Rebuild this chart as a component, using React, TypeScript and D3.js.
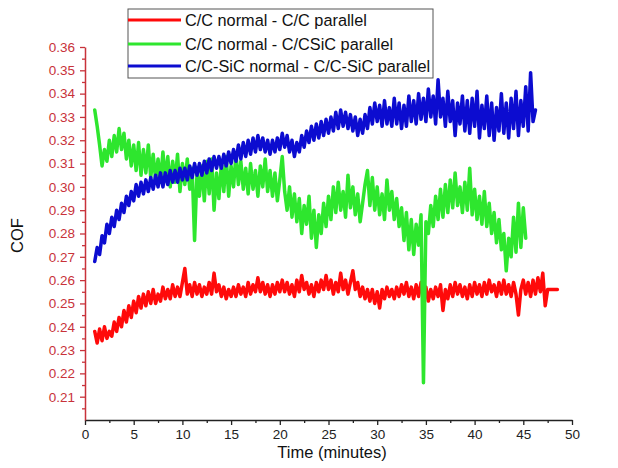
import React, { useEffect, useRef } from "react";
import * as d3 from "d3";

// Sampling of the recorded COF signal (minutes)
const T0 = 1.0;
const DT = 0.25;

const seriesNames = [
  "C/C normal - C/C parallel",
  "C/C normal - C/CSiC parallel",
  "C/C-SiC normal - C/C-SiC parallel",
];

const redCOF = [
  0.238, 0.233, 0.239, 0.234, 0.240, 0.235, 0.238, 0.236, 0.242, 0.238, 0.244, 0.240, 0.247, 0.242, 0.249, 0.244,
  0.251, 0.246, 0.253, 0.248, 0.254, 0.249, 0.255, 0.250, 0.256, 0.250, 0.254, 0.251, 0.257, 0.252, 0.256, 0.252,
  0.258, 0.253, 0.257, 0.253, 0.259, 0.265, 0.254, 0.258, 0.253, 0.259, 0.254, 0.258, 0.253, 0.257, 0.254, 0.259,
  0.254, 0.263, 0.255, 0.258, 0.253, 0.257, 0.252, 0.256, 0.253, 0.257, 0.253, 0.258, 0.254, 0.257, 0.253, 0.259,
  0.254, 0.258, 0.255, 0.261, 0.255, 0.259, 0.254, 0.258, 0.253, 0.258, 0.254, 0.259, 0.255, 0.260, 0.255, 0.259,
  0.254, 0.258, 0.253, 0.260, 0.255, 0.262, 0.256, 0.259, 0.254, 0.258, 0.253, 0.259, 0.255, 0.260, 0.256, 0.262,
  0.256, 0.260, 0.254, 0.259, 0.255, 0.263, 0.256, 0.260, 0.254, 0.259, 0.264, 0.256, 0.259, 0.253, 0.257, 0.252,
  0.256, 0.251, 0.256, 0.250, 0.255, 0.248, 0.256, 0.252, 0.257, 0.253, 0.256, 0.252, 0.257, 0.253, 0.258, 0.254,
  0.259, 0.253, 0.257, 0.252, 0.258, 0.253, 0.259, 0.254, 0.257, 0.251, 0.256, 0.252, 0.257, 0.253, 0.258, 0.247,
  0.256, 0.252, 0.258, 0.253, 0.259, 0.254, 0.258, 0.253, 0.257, 0.252, 0.258, 0.253, 0.259, 0.254, 0.258, 0.253,
  0.259, 0.254, 0.260, 0.255, 0.258, 0.253, 0.259, 0.254, 0.260, 0.254, 0.258, 0.253, 0.259, 0.254, 0.245, 0.256,
  0.260, 0.254, 0.259, 0.253, 0.260, 0.254, 0.261, 0.255, 0.263, 0.249, 0.256, 0.256, 0.256, 0.256, 0.256,
];

const greenCOF = [
  0.333, 0.326, 0.318, 0.309, 0.316, 0.311, 0.320, 0.313, 0.322, 0.315, 0.325, 0.316, 0.323, 0.312, 0.320, 0.309,
  0.318, 0.307, 0.319, 0.305, 0.316, 0.306, 0.318, 0.304, 0.314, 0.303, 0.312, 0.302, 0.315, 0.303, 0.313, 0.300,
  0.311, 0.302, 0.314, 0.298, 0.310, 0.301, 0.312, 0.299, 0.308, 0.277, 0.306, 0.296, 0.309, 0.294, 0.311, 0.297,
  0.312, 0.290, 0.306, 0.295, 0.310, 0.298, 0.313, 0.296, 0.309, 0.300, 0.314, 0.301, 0.311, 0.299, 0.308, 0.297,
  0.310, 0.299, 0.307, 0.296, 0.309, 0.300, 0.312, 0.298, 0.307, 0.296, 0.306, 0.294, 0.303, 0.313, 0.298, 0.290,
  0.300, 0.287, 0.297, 0.285, 0.295, 0.280, 0.292, 0.284, 0.296, 0.278, 0.290, 0.274, 0.288, 0.280, 0.293, 0.283,
  0.296, 0.286, 0.300, 0.289, 0.302, 0.290, 0.298, 0.287, 0.305, 0.291, 0.300, 0.288, 0.297, 0.285, 0.293, 0.301,
  0.307, 0.292, 0.304, 0.290, 0.300, 0.288, 0.297, 0.286, 0.303, 0.290, 0.298, 0.286, 0.295, 0.283, 0.291, 0.277,
  0.289, 0.273, 0.286, 0.271, 0.284, 0.275, 0.288, 0.216, 0.285, 0.280, 0.292, 0.283, 0.296, 0.286, 0.299, 0.287,
  0.301, 0.289, 0.303, 0.291, 0.306, 0.292, 0.300, 0.289, 0.302, 0.290, 0.308, 0.288, 0.299, 0.286, 0.296, 0.284,
  0.298, 0.283, 0.293, 0.280, 0.289, 0.276, 0.286, 0.273, 0.280, 0.264, 0.278, 0.270, 0.287, 0.272, 0.293, 0.274,
  0.291, 0.278,
];

const blueCOF = [
  0.268, 0.274, 0.271, 0.279, 0.276, 0.284, 0.280, 0.287, 0.283, 0.290, 0.286, 0.293, 0.289, 0.296, 0.292, 0.298,
  0.294, 0.301, 0.296, 0.302, 0.297, 0.303, 0.298, 0.304, 0.299, 0.305, 0.300, 0.306, 0.300, 0.306, 0.301, 0.307,
  0.302, 0.307, 0.302, 0.308, 0.303, 0.308, 0.303, 0.309, 0.304, 0.310, 0.305, 0.310, 0.305, 0.311, 0.306, 0.312,
  0.307, 0.313, 0.308, 0.313, 0.308, 0.314, 0.309, 0.315, 0.310, 0.316, 0.311, 0.318, 0.312, 0.319, 0.313, 0.320,
  0.314, 0.321, 0.315, 0.322, 0.316, 0.321, 0.315, 0.320, 0.314, 0.320, 0.315, 0.321, 0.316, 0.323, 0.317, 0.322,
  0.315, 0.320, 0.313, 0.319, 0.315, 0.322, 0.317, 0.324, 0.319, 0.326, 0.320, 0.327, 0.321, 0.328, 0.322, 0.329,
  0.323, 0.330, 0.324, 0.332, 0.325, 0.333, 0.326, 0.332, 0.325, 0.331, 0.324, 0.330, 0.322, 0.329, 0.323, 0.331,
  0.325, 0.334, 0.327, 0.336, 0.328, 0.335, 0.326, 0.337, 0.327, 0.334, 0.326, 0.338, 0.327, 0.336, 0.325, 0.335,
  0.326, 0.339, 0.328, 0.337, 0.327, 0.340, 0.329, 0.338, 0.328, 0.342, 0.330, 0.339, 0.327, 0.346, 0.330, 0.338,
  0.326, 0.341, 0.328, 0.337, 0.322, 0.336, 0.327, 0.339, 0.324, 0.337, 0.323, 0.338, 0.326, 0.341, 0.321, 0.335,
  0.325, 0.339, 0.322, 0.336, 0.320, 0.334, 0.324, 0.340, 0.323, 0.336, 0.321, 0.338, 0.325, 0.341, 0.322, 0.337,
  0.326, 0.343, 0.324, 0.349, 0.328, 0.333,
];

const seriesColors = ["#ff0a0a", "#2ee62e", "#0c0cd0"];
const xTicks = [0, 5, 10, 15, 20, 25, 30, 35, 40, 45, 50];
const xMinorTicks = [2.5, 7.5, 12.5, 17.5, 22.5, 27.5, 32.5, 37.5, 42.5, 47.5];
const yTicks = [0.21, 0.22, 0.23, 0.24, 0.25, 0.26, 0.27, 0.28, 0.29, 0.30, 0.31, 0.32, 0.33, 0.34, 0.35, 0.36];
const yMinorTicks = [0.205, 0.215, 0.225, 0.235, 0.245, 0.255, 0.265, 0.275, 0.285, 0.295, 0.305, 0.315, 0.325, 0.335, 0.345, 0.355];

const W = 618;
const H = 468;
const AXIS_RED = "#c8323a";
const FONT = "'Liberation Sans', Arial, Helvetica, sans-serif";

export default function App() {
  const ref = useRef<SVGSVGElement | null>(null);

  useEffect(() => {
    const svg = d3.select(ref.current);
    svg.selectAll("*").remove();

    const x = d3.scaleLinear().domain([0, 50]).range([85, 572]);
    const y = d3.scaleLinear().domain([0.2, 0.36]).range([420, 47]);

    const all = [redCOF, greenCOF, blueCOF];
    const line = d3
      .line<number>()
      .x((_, i) => x(T0 + i * DT))
      .y((d) => y(d));

    const plot = svg.append("g");
    all.forEach((s, k) => {
      plot
        .append("path")
        .attr("d", line(s) as string)
        .attr("fill", "none")
        .attr("stroke", seriesColors[k])
        .attr("stroke-width", 3.5)
        .attr("stroke-linejoin", "round")
        .attr("stroke-linecap", "round");
    });

    // X axis
    const gx = svg.append("g").attr("transform", `translate(0,${y(0.2)})`);
    gx.call(d3.axisBottom(x).tickValues(xTicks).tickSize(5).tickSizeOuter(0).tickPadding(4).tickFormat(d3.format("d")));
    const gxm = svg.append("g").attr("transform", `translate(0,${y(0.2)})`);
    gxm.call(d3.axisBottom(x).tickValues(xMinorTicks).tickSize(3).tickSizeOuter(0).tickFormat(() => ""));
    gxm.select(".domain").remove();
    [gx, gxm].forEach((g) => {
      g.selectAll("line").attr("stroke", "#222").attr("stroke-width", 1.3);
      g.select(".domain").attr("stroke", "#222").attr("stroke-width", 1.5);
      g.selectAll("text").attr("font-family", FONT).attr("font-size", 13.5).attr("fill", "#222");
    });

    // Y axis
    const gy = svg.append("g").attr("transform", `translate(${x(0)},0)`);
    gy.call(d3.axisLeft(y).tickValues(yTicks).tickSize(5).tickSizeOuter(0).tickPadding(5).tickFormat(d3.format(".2f")));
    const gym = svg.append("g").attr("transform", `translate(${x(0)},0)`);
    gym.call(d3.axisLeft(y).tickValues(yMinorTicks).tickSize(3).tickSizeOuter(0).tickFormat(() => ""));
    gym.select(".domain").remove();
    [gy, gym].forEach((g) => {
      g.selectAll("line").attr("stroke", AXIS_RED).attr("stroke-width", 1.3);
      g.select(".domain").attr("stroke", AXIS_RED).attr("stroke-width", 1.5);
      g.selectAll("text").attr("font-family", FONT).attr("font-size", 13.5).attr("fill", AXIS_RED);
    });

    // Axis titles
    svg
      .append("text")
      .attr("x", 332)
      .attr("y", 458)
      .attr("text-anchor", "middle")
      .attr("font-family", FONT)
      .attr("font-size", 16.5)
      .attr("fill", "#111")
      .text("Time (minutes)");
    svg
      .append("text")
      .attr("transform", `translate(23,${(y(0.2) + y(0.36)) / 2 + 2}) rotate(-90)`)
      .attr("text-anchor", "middle")
      .attr("font-family", FONT)
      .attr("font-size", 16.5)
      .attr("fill", "#111")
      .text("COF");

    // Legend
    const lg = svg.append("g");
    lg.append("rect")
      .attr("x", 128)
      .attr("y", 9)
      .attr("width", 305)
      .attr("height", 69)
      .attr("fill", "white")
      .attr("stroke", "#555")
      .attr("stroke-width", 1);
    const rows = [20, 44, 66];
    seriesNames.forEach((name, k) => {
      lg.append("line")
        .attr("x1", 128)
        .attr("x2", 181)
        .attr("y1", rows[k])
        .attr("y2", rows[k])
        .attr("stroke", seriesColors[k])
        .attr("stroke-width", 3);
      lg.append("text")
        .attr("x", 185)
        .attr("y", rows[k] + 5.5)
        .attr("font-family", FONT)
        .attr("font-size", 16.3)
        .attr("fill", "#111")
        .text(name);
    });
  }, []);

  return (
    <svg
      ref={ref}
      width={W}
      height={H}
      style={{ position: "absolute", left: 0, top: 0, background: "white" }}
    />
  );
}
